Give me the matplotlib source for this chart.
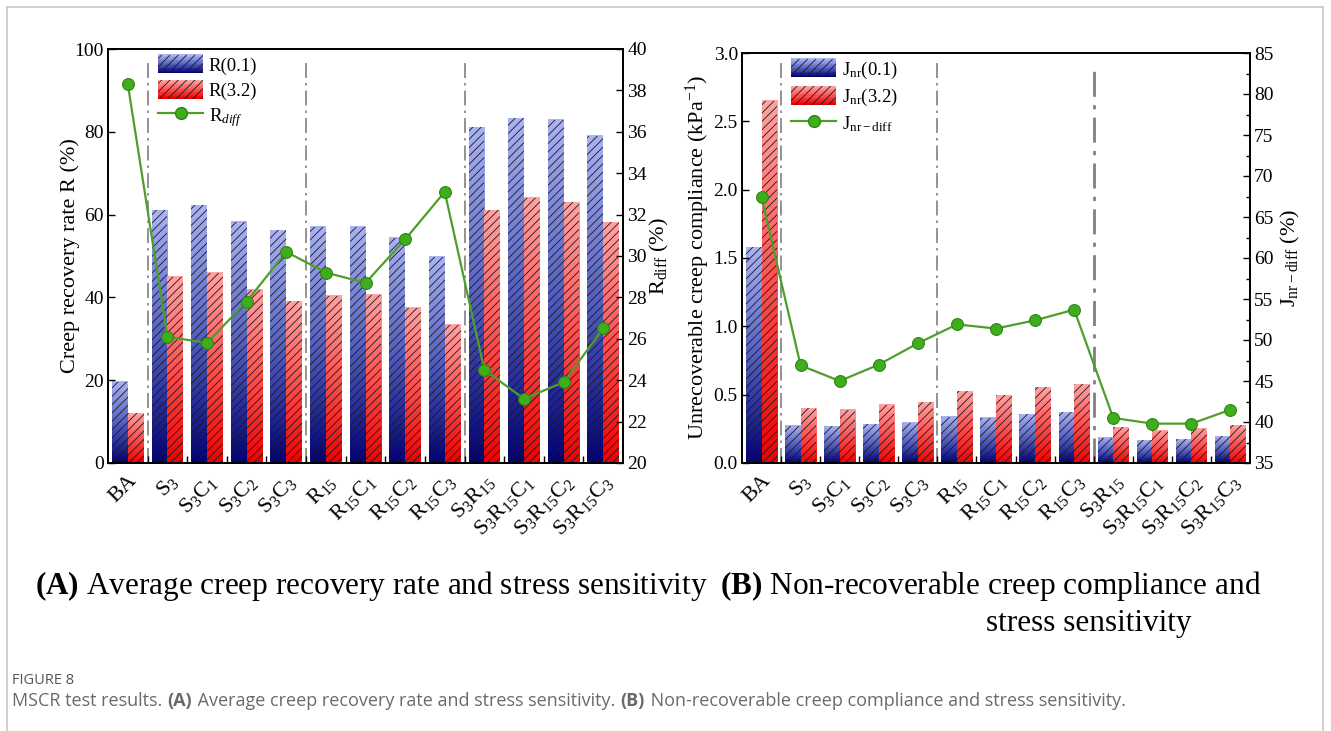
import numpy as np
import matplotlib
matplotlib.use('Agg')
import matplotlib.pyplot as plt
from matplotlib.colors import LinearSegmentedColormap
from matplotlib.patches import Rectangle, Patch
from matplotlib.lines import Line2D
from matplotlib.text import Annotation
from matplotlib.legend_handler import HandlerBase
from matplotlib.ticker import MultipleLocator, FixedLocator

# MSCR results per binder
samples = ['BA', 'S$_3$', 'S$_3$C$_1$', 'S$_3$C$_2$', 'S$_3$C$_3$',
           'R$_{15}$', 'R$_{15}$C$_1$', 'R$_{15}$C$_2$', 'R$_{15}$C$_3$',
           'S$_3$R$_{15}$', 'S$_3$R$_{15}$C$_1$', 'S$_3$R$_{15}$C$_2$',
           'S$_3$R$_{15}$C$_3$']

r_01 = [19.6, 61.0, 62.2, 58.3, 56.2, 57.1, 57.1, 54.4, 49.8, 81.1, 83.3, 82.9, 79.0]
r_32 = [12.0, 45.0, 46.0, 41.9, 39.1, 40.4, 40.6, 37.5, 33.4, 61.1, 64.1, 63.0, 58.1]
r_diff = [38.3, 26.1, 25.8, 27.8, 30.2, 29.2, 28.7, 30.8, 33.1, 24.5, 23.1, 23.9, 26.5]

jnr_01 = [1.58, 0.273, 0.27, 0.285, 0.295, 0.34, 0.33, 0.358, 0.373, 0.185, 0.166, 0.175, 0.195]
jnr_32 = [2.65, 0.402, 0.388, 0.427, 0.446, 0.524, 0.497, 0.553, 0.578, 0.263, 0.236, 0.251, 0.276]
jnr_diff = [67.4, 46.9, 45.0, 47.0, 49.6, 51.9, 51.4, 52.4, 53.7, 40.5, 39.8, 39.8, 41.5]

group_edges = [0.5, 4.5, 8.5]

plt.rcParams['font.family'] = ['Liberation Serif', 'DejaVu Serif']
plt.rcParams['mathtext.fontset'] = 'custom'
plt.rcParams['mathtext.rm'] = 'Liberation Serif'
plt.rcParams['mathtext.it'] = 'Liberation Serif:italic'
plt.rcParams['mathtext.bf'] = 'Liberation Serif:bold'
plt.rcParams['hatch.linewidth'] = 0.6

blue_cmap = LinearSegmentedColormap.from_list('blue_grad', ['#000078', '#5560c0', '#aab3f3'])
red_cmap = LinearSegmentedColormap.from_list('red_grad', ['#f00000', '#ff5050', '#ffa3a3'])
GREEN = '#4f9e2a'
HATCH = '////'
W = 0.4


class GradientHandler(HandlerBase):
    def __init__(self, cmap):
        super().__init__()
        self.cmap = cmap

    def create_artists(self, legend, orig_handle, xdescent, ydescent,
                       width, height, fontsize, trans):
        arts = []
        n = 14
        for i in range(n):
            arts.append(Rectangle((-xdescent, -ydescent + i * height / n), width,
                                  height / n + 0.3, facecolor=self.cmap(i / (n - 1)),
                                  edgecolor='none', transform=trans))
        arts.append(Rectangle((-xdescent, -ydescent), width, height, facecolor='none',
                              edgecolor='#1a1a1a', linewidth=0, hatch=HATCH,
                              transform=trans))
        return arts


def gradient_bars(ax, xs, heights, cmap):
    g = np.linspace(0, 1, 256).reshape(-1, 1)
    for x, h in zip(xs, heights):
        ax.imshow(g, extent=(x - W / 2, x + W / 2, 0, h), origin='lower',
                  cmap=cmap, aspect='auto', zorder=1, interpolation='bilinear')
    ax.bar(xs, heights, W, facecolor='none', edgecolor='#1a1a1a',
           linewidth=0, hatch=HATCH, zorder=2)


def panel(fig, rect, v1, v2, vdiff, ylim, ystep, y2lim, y2step,
          ylabel, y2label, names, pads, thick_last=False, y2minor=None):
    ax = fig.add_axes(rect)
    x = np.arange(len(samples))
    gradient_bars(ax, x - W / 2, v1, blue_cmap)
    gradient_bars(ax, x + W / 2, v2, red_cmap)
    for i, e in enumerate(group_edges):
        lw = 2.0 if (thick_last and i == 2) else 1.2
        ax.axvline(e, color='#808080', lw=lw, ls=(0, (9, 3, 1.5, 3)), zorder=1.5,
                   ymin=0, ymax=0.975)
    ax.set_xlim(-0.5, len(samples) - 0.5)
    ax.set_ylim(*ylim)
    ax.yaxis.set_major_locator(MultipleLocator(ystep))
    ax.set_xticks(x)
    ax.set_xticklabels(samples, rotation=45, ha='right', va='top',
                       rotation_mode='anchor', fontsize=16)
    ax.xaxis.set_minor_locator(FixedLocator(np.arange(0.5, len(samples) - 1, 1.0)))
    ax.tick_params(axis='x', which='major', length=0, pad=6)
    ax.tick_params(axis='x', which='minor', direction='in', length=5, width=1)
    ax.tick_params(axis='y', direction='in', length=5, width=1, labelsize=14, pad=3)
    ax.set_ylabel(ylabel, fontsize=16, labelpad=pads[0])

    ax2 = ax.twinx()
    ax2.plot(x, vdiff, color=GREEN, lw=1.6, marker='o', ms=8.5,
             mfc='#3fae1c', mec='#2f8414', mew=0.8, zorder=5)
    ax2.set_ylim(*y2lim)
    ax2.yaxis.set_major_locator(MultipleLocator(y2step))
    if y2minor:
        ax2.yaxis.set_minor_locator(MultipleLocator(y2minor))
    ax2.tick_params(axis='y', which='both', direction='in', width=1, labelsize=14, pad=3)
    ax2.tick_params(axis='y', which='major', length=5)
    ax2.tick_params(axis='y', which='minor', length=3)
    ax2.set_ylabel(y2label, fontsize=16, labelpad=pads[1])
    for a in (ax, ax2):
        for s in a.spines.values():
            s.set_linewidth(1.3)

    handles = [Patch(label=names[0]), Patch(label=names[1]),
               Line2D([], [], color=GREEN, lw=1.6, marker='o', ms=8.5,
                      mfc='#3fae1c', mec='#2f8414', label=names[2])]
    hmap = {handles[0]: GradientHandler(blue_cmap), handles[1]: GradientHandler(red_cmap)}
    ax2.legend(handles=handles, handler_map=hmap, loc='upper left',
               bbox_to_anchor=(0.09, 0.995), frameon=False, fontsize=13.5,
               handlelength=2.4, handleheight=1.15, handletextpad=0.3,
               labelspacing=0.3, borderaxespad=0, borderpad=0.2)
    return ax, ax2


fig = plt.figure(figsize=(13.31, 7.31), dpi=100)
FW, FH = 1331.0, 731.0

panel(fig, [108 / FW, 1 - 463 / FH, 515 / FW, 414 / FH], r_01, r_32, r_diff,
      (0, 100), 20, (20, 40), 2,
      'Creep recovery rate R (%)', 'R$_\\mathrm{diff}$ (%)',
      ['R(0.1)', 'R(3.2)', 'R$_{diff}$'], pads=(-4, 1))

panel(fig, [742 / FW, 1 - 463 / FH, 508 / FW, 410 / FH], jnr_01, jnr_32, jnr_diff,
      (0, 3.0), 0.5, (35, 85), 5,
      'Unrecoverable creep compliance (kPa$^{-1}$)', 'J$_\\mathrm{nr-diff}$ (%)',
      ['J$_\\mathrm{nr}$(0.1)', 'J$_\\mathrm{nr}$(3.2)', 'J$_\\mathrm{nr-diff}$'],
      pads=(1, 4), thick_last=True, y2minor=2.5)


def px(x, y):
    return x / FW, 1 - y / FH


# panel titles under the plots
fig.text(*px(35, 586), r'$\mathbf{(A)}$ Average creep recovery rate and stress sensitivity',
         fontsize=22.5, va='center', ha='left')
fig.text(*px(720, 586), r'$\mathbf{(B)}$ Non-recoverable creep compliance and',
         fontsize=22.5, va='center', ha='left')
fig.text(*px(986, 623), 'stress sensitivity', fontsize=22.5, va='center', ha='left')

# page caption
cap = dict(family=['Open Sans', 'DejaVu Sans'], fontsize=13, color='#6a6a6a')
fig.text(*px(12, 680), 'FIGURE 8', va='center', ha='left',
         **{**cap, 'fontsize': 10.5, 'color': '#555555'})
pieces = [('(A)', 'bold'),
          (' Average creep recovery rate and stress sensitivity. ', 'normal'),
          ('(B)', 'bold'),
          (' Non-recoverable creep compliance and stress sensitivity.', 'normal')]
prev = fig.text(*px(12, 701), 'MSCR test results. ', va='center', ha='left', **cap)
for txt, wt in pieces:
    prev = fig.add_artist(Annotation(
        txt, xy=(1, 0.5), xycoords=prev, xytext=(0.5, 0), textcoords='offset points',
        va='center', ha='left', fontweight=wt, **cap))

# light page frame
for xs, ys in [((7, 7), (731, 7)), ((7, 1323), (7, 7)), ((1323, 1323), (7, 731))]:
    fig.add_artist(Line2D([x / FW for x in xs], [1 - y / FH for y in ys],
                          color='#c8c8c8', lw=1.2))

fig.savefig('out.png', dpi=100)
